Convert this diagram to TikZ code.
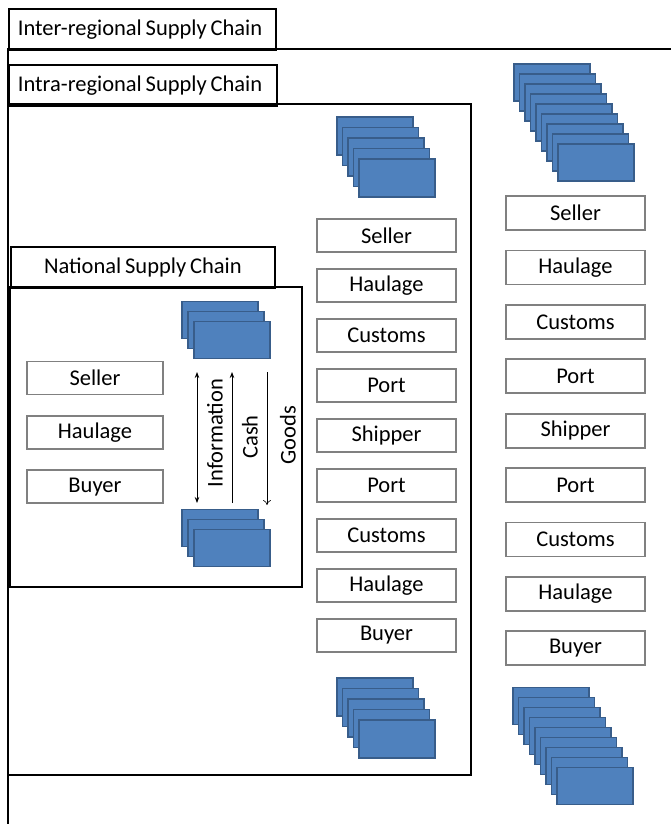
\documentclass[tikz,border=0pt]{standalone}
\usepackage{fontspec}
\setmainfont{Carlito}[WordSpace=0.75]
\usetikzlibrary{arrows.meta}
\definecolor{cardblue}{HTML}{4F81BD}
\definecolor{cardedge}{HTML}{385D8A}
\newcommand{\tabtext}[2]{\makebox[#1][l]{#2}}
\tikzset{
  frame/.style={draw=black, line width=1.8pt},
  tab/.style={frame, rectangle, anchor=north west, minimum height=41pt, inner ysep=0pt},
  rolebox/.style={draw=gray, line width=1.8pt, rectangle, minimum width=139pt, minimum height=33pt, inner sep=0pt},
  card/.style={draw=cardedge, fill=cardblue, line width=1.6pt, rectangle, minimum width=76pt, minimum height=37pt, inner sep=0pt},
  flowlabel/.style={rotate=90, inner sep=0pt}
}
\begin{document}
\begin{tikzpicture}[x=1pt, y=-1pt, font=\fontsize{22.5}{26}\selectfont]
\useasboundingbox (0,0) rectangle (671,824);
% outer frame runs off the page
\draw[frame] (8,830) -- (8,49) -- (680,49);
\node[tab, inner xsep=9pt] (intertab) at (8,8) {\tabtext{249pt}{Inter-regional Supply Chain}};
\node[tab, inner xsep=9pt] (intratab) at (8,64) {\tabtext{250pt}{Intra-regional Supply Chain}};
\draw[frame] (8,104) rectangle (471,775);
\node[tab, minimum width=264pt, inner xsep=0pt] (nattab) at (10,246) {National Supply Chain};
\draw[frame] (10,287) rectangle (302,587);

% national roles
\foreach \name/\txt [count=\k from 0] in {nseller/Seller, nhaulage/Haulage, nbuyer/Buyer}
  \node[rolebox, minimum width=136pt] (\name) at (95,378+54.3*\k) {\txt};
% intra-regional roles
\foreach \txt [count=\k from 0] in {Seller, Haulage, Customs, Port, Shipper, Port, Customs, Haulage, Buyer}
  \node[rolebox] (mid\k) at (386.5,235.5+50*\k) {\txt};
% inter-regional roles
\foreach \txt [count=\k from 0] in {Seller, Haulage, Customs, Port, Shipper, Port, Customs, Haulage, Buyer}
  \node[rolebox, minimum height=34pt] (right\k) at (575.5,213+54.4*\k) {\txt};

% stacks of firms
\foreach \i in {0,...,2} {
  \node[card] (nattop\i) at (220+6*\i,320+10*\i) {};
  \node[card] (natbot\i) at (220+6*\i,528+10*\i) {};
}
\foreach \i in {0,...,4} {
  \node[card, minimum height=38pt] (midtop\i) at (375+5.5*\i,136+10.5*\i) {};
  \node[card, minimum height=38pt] (midbot\i) at (375+5.5*\i,697+10.5*\i) {};
}
\foreach \i in {0,...,8} {
  \node[card] (righttop\i) at (552+5.5*\i,82.5+10*\i) {};
  \node[card] (rightbot\i) at (551+5.5*\i,706+10*\i) {};
}

% flows
\coordinate (infotop) at (197,372); \coordinate (infobot) at (197,503);
\coordinate (cashtop) at (232,372); \coordinate (cashbot) at (232,503);
\coordinate (goodstop) at (267,372); \coordinate (goodsbot) at (267,505);
\draw[{Stealth[length=6pt]}-{Stealth[length=6pt]}, line width=0.8pt] (infotop) -- (infobot);
\draw[-{Stealth[length=6pt]}, line width=0.8pt] (cashbot) -- (cashtop);
\draw[-{To[length=5pt,width=8pt]}, line width=0.6pt] (goodstop) -- (goodsbot);
\node[flowlabel] (infolabel) at (215,433) {Information};
\node[flowlabel] (cashlabel) at (250,437) {Cash};
\node[flowlabel] (goodslabel) at (288,435) {Goods};
\end{tikzpicture}
\end{document}
